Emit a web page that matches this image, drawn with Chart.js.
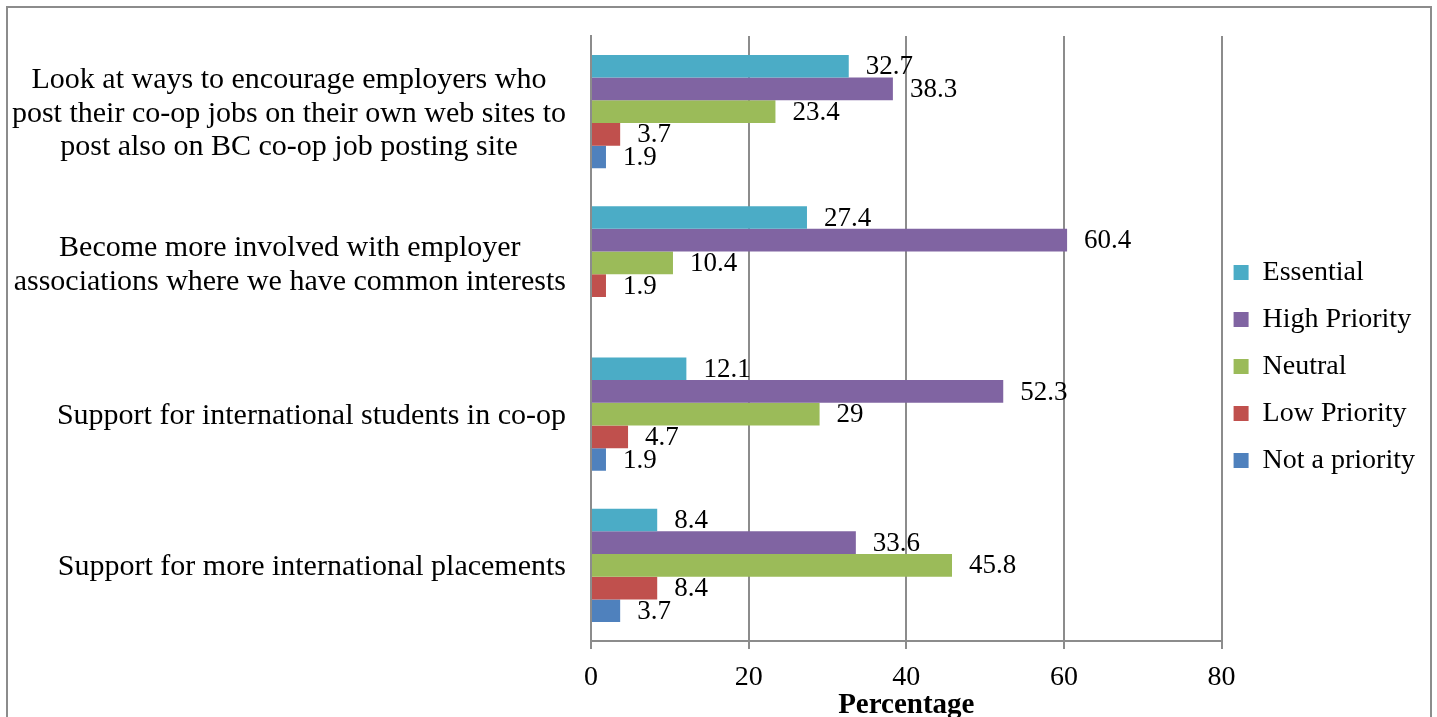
<!DOCTYPE html>
<html>
<head>
<meta charset="utf-8">
<title>Employer relations priorities</title>
<script src="https://cdn.jsdelivr.net/npm/chart.js@4.4.1/dist/chart.umd.min.js"></script>
<style>
  html, body { margin: 0; padding: 0; background: #fff; overflow: hidden; }
  #frame { position: absolute; left: 6px; top: 6px; width: 1422px; height: 760px; border: 2px solid #8c8c8c; }
  #wrap { position: absolute; left: 0; top: 0; width: 1437px; height: 717px; }
</style>
</head>
<body>
<div id="frame"></div>
<div id="wrap"><canvas id="priorities"></canvas></div>
<script>
// categories, top to bottom
const categories = [
    ['Look at ways to encourage employers who', 'post their co-op jobs on their own web sites to', 'post also on BC co-op job posting site'],
    ['Become more involved with employer', 'associations where we have common interests'],
    'Support for international students in co-op',
    'Support for more international placements'
];
const seriesNames = ['Essential', 'High Priority', 'Neutral', 'Low Priority', 'Not a priority'];
const seriesColors = ['#4bacc6', '#8064a2', '#9bbb59', '#c0504d', '#4f81bd'];

// percentages per category
const essential = [32.7, 27.4, 12.1, 8.4];
const highPriority = [38.3, 60.4, 52.3, 33.6];
const neutral = [23.4, 10.4, 29, 45.8];
const lowPriority = [3.7, 1.9, 4.7, 8.4];
const notAPriority = [1.9, null, 1.9, 3.7];

const xTicks = [0, 20, 40, 60, 80];

const FONT = "'Liberation Serif', 'Times New Roman', serif";
Chart.defaults.font.family = FONT;
Chart.defaults.color = '#000';

// value printed to the right of each bar
const valueLabels = {
    id: 'valueLabels',
    afterDatasetsDraw(chart) {
        const ctx = chart.ctx;
        ctx.save();
        ctx.font = '27px ' + FONT;
        ctx.fillStyle = '#000';
        ctx.textAlign = 'left';
        ctx.textBaseline = 'middle';
        chart.data.datasets.forEach((ds, i) => {
            chart.getDatasetMeta(i).data.forEach((bar, j) => {
                const v = ds.data[j];
                if (v === null || v === undefined) return;
                ctx.fillText(String(v), bar.x + 17, bar.y + 1);
            });
        });
        ctx.restore();
    }
};

// category names: block right-aligned to the axis, lines centred inside it
const categoryLabels = {
    id: 'categoryLabels',
    afterDraw(chart) {
        const ctx = chart.ctx;
        const yScale = chart.scales.y;
        const right = chart.chartArea.left - 25;
        ctx.save();
        ctx.font = '30px ' + FONT;
        ctx.fillStyle = '#000';
        ctx.textAlign = 'center';
        ctx.textBaseline = 'middle';
        categories.forEach((lab, i) => {
            const lines = Array.isArray(lab) ? lab : [lab];
            const w = Math.max(...lines.map(l => ctx.measureText(l).width));
            const cx = right - w / 2;
            const cy = yScale.getPixelForValue(i) + 2;
            lines.forEach((l, k) => {
                ctx.fillText(l, cx, cy + (k - (lines.length - 1) / 2) * 33.5);
            });
        });
        ctx.restore();
    }
};

// nudge the legend a little closer to the plot
const legendNudge = {
    id: 'legendNudge',
    beforeDraw(chart) {
        if (!chart.legend || chart.legend._nudged) return;
        chart.legend.left -= 7;
        chart.legend.right -= 7;
        chart.legend._nudged = true;
    },
    afterLayout(chart) {
        if (chart.legend) chart.legend._nudged = false;
    }
};

const ctx = document.getElementById('priorities').getContext('2d');
new Chart(ctx, {
    type: 'bar',
    data: {
        labels: categories,
        datasets: [
            { label: seriesNames[0], data: essential, backgroundColor: seriesColors[0] },
            { label: seriesNames[1], data: highPriority, backgroundColor: seriesColors[1] },
            { label: seriesNames[2], data: neutral, backgroundColor: seriesColors[2] },
            { label: seriesNames[3], data: lowPriority, backgroundColor: seriesColors[3] },
            { label: seriesNames[4], data: notAPriority, backgroundColor: seriesColors[4] }
        ]
    },
    options: {
        indexAxis: 'y',
        responsive: true,
        maintainAspectRatio: false,
        animation: false,
        datasets: {
            bar: { categoryPercentage: 0.75, barPercentage: 1.0 }
        },
        // bottom padding lifts the legend; the axis title hangs back down into it
        layout: { padding: { top: 36, right: 5, bottom: 20, left: 0 } },
        scales: {
            x: {
                min: 0,
                max: 80,
                afterBuildTicks(scale) {
                    scale.ticks = xTicks.map(v => ({ value: v }));
                },
                grid: { color: '#8c8c8c', lineWidth: 2, tickLength: 8, drawTicks: true },
                border: { color: '#8c8c8c', width: 2 },
                ticks: { font: { size: 28, lineHeight: 1 }, padding: 15 },
                title: {
                    display: true,
                    text: 'Percentage',
                    font: { size: 29, weight: 'bold', lineHeight: 1 },
                    padding: { top: -16, bottom: -23 }
                }
            },
            y: {
                grid: { display: false, drawTicks: false },
                border: { color: '#8c8c8c', width: 2 },
                ticks: { display: false },
                afterFit(scale) { scale.width = 591; }
            }
        },
        plugins: {
            legend: {
                position: 'right',
                labels: {
                    boxWidth: 15,
                    boxHeight: 15,
                    padding: 19,
                    font: { size: 28 },
                    color: '#000'
                }
            },
            tooltip: { enabled: false }
        }
    },
    plugins: [valueLabels, categoryLabels, legendNudge]
});
</script>
</body>
</html>
